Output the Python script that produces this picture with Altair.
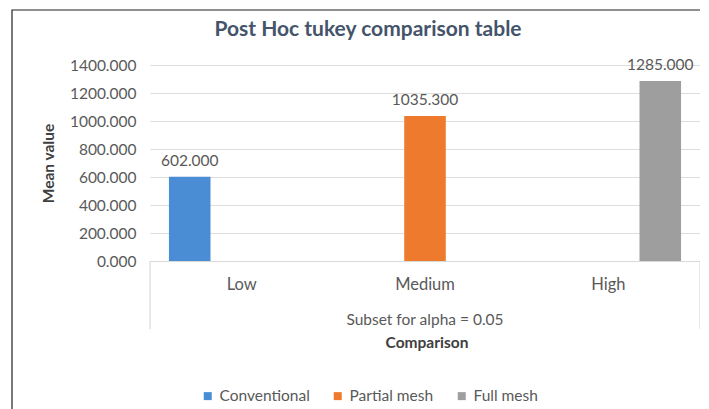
import altair as alt
import pandas as pd

categories = ["Low", "Medium", "High"]
series = ["Conventional", "Partial mesh", "Full mesh"]
values = [602.0, 1035.3, 1285.0]
colors = ["#4A8DD5", "#EE7A2E", "#9E9E9E"]
y_ticks = [0, 200, 400, 600, 800, 1000, 1200, 1400]

FONT = "Lato"
GRAY = "#595959"

df = pd.DataFrame({"Comparison": categories, "Series": series, "Mean value": values})

W, H = 550, 196

x_enc = alt.X("Comparison:N", sort=categories,
              scale=alt.Scale(paddingInner=0.15, paddingOuter=0.075),
              axis=alt.Axis(title=None, labelAngle=0, labelPadding=15, labelFontSize=16.5,
                            labelColor=GRAY, labelFont=FONT, ticks=False,
                            domainColor="#D9D9D9", domainWidth=1.2))
y_enc = alt.Y("Mean value:Q", scale=alt.Scale(domain=[0, 1400], nice=False),
              axis=alt.Axis(values=y_ticks, tickCount=8, format=".3f", title="Mean value",
                            labelFontSize=15.5, labelColor=GRAY, labelFont=FONT,
                            labelPadding=14, ticks=False, domain=False, labelOverlap=False,
                            gridColor="#DDDDDD", titleFont=FONT, titleFontSize=15.5,
                            titleFontWeight="bold", titleColor="#404040",
                            titleX=-102, titleY=H / 2, titleAngle=270,
                            titleAlign="center", titleBaseline="middle"))
xoff = alt.XOffset("Series:N", sort=series,
                   scale=alt.Scale(domain=series, paddingInner=0.2, paddingOuter=0.1))

bars = alt.Chart(df).mark_bar().encode(
    x=x_enc, y=y_enc, xOffset=xoff,
    color=alt.Color("Series:N", sort=series,
                    scale=alt.Scale(domain=series, range=colors),
                    legend=alt.Legend(title=None, orient="none", direction="horizontal",
                                      legendX=50, legendY=323, symbolType="square",
                                      symbolSize=64, labelFontSize=15.5, labelColor=GRAY,
                                      labelFont=FONT, columnPadding=20, symbolStrokeWidth=0)),
)

labels = alt.Chart(df).mark_text(baseline="bottom", dy=-8, fontSize=15.5, color=GRAY,
                                 font=FONT).encode(
    x=x_enc,
    xOffset=xoff,
    y=y_enc,
    text=alt.Text("Mean value:Q", format=".3f"),
)

deco = pd.DataFrame({"k": [0]})
left_rule = alt.Chart(deco).mark_rule(color="#D9D9D9", strokeWidth=1.2).encode(
    x=alt.value(0), y=alt.value(H), y2=alt.value(H + 68))
right_rule = alt.Chart(deco).mark_rule(color="#D9D9D9", strokeWidth=1.2).encode(
    x=alt.value(W), y=alt.value(H), y2=alt.value(H + 68))
subset_txt = alt.Chart(deco).mark_text(text="Subset for alpha = 0.05", fontSize=15.5,
                                       color=GRAY, font=FONT).encode(
    x=alt.value(275), y=alt.value(255))
comp_txt = alt.Chart(deco).mark_text(text="Comparison", fontSize=15.5, fontWeight="bold",
                                     color="#404040", font=FONT).encode(
    x=alt.value(277), y=alt.value(278))
title_txt = alt.Chart(deco).mark_text(text="Post Hoc tukey comparison table", fontSize=21,
                                      fontWeight="bold", color="#44546A", font=FONT).encode(
    x=alt.value(218), y=alt.value(-35))
border = alt.Chart(deco).mark_rect(fill=None, stroke="#222222", strokeWidth=1.2).encode(
    x=alt.value(-138), x2=alt.value(553), y=alt.value(-55), y2=alt.value(370))

chart = alt.layer(border, bars, labels, left_rule, right_rule, subset_txt, comp_txt,
                  title_txt).properties(
    width=W, height=H,
    autosize=alt.AutoSizeParams(type="none"),
    padding={"left": 142, "top": 57, "right": 0, "bottom": 150},
    background="white",
).configure_view(stroke=None)

chart.save("out.html", embed_options={"renderer": "svg", "actions": False})
